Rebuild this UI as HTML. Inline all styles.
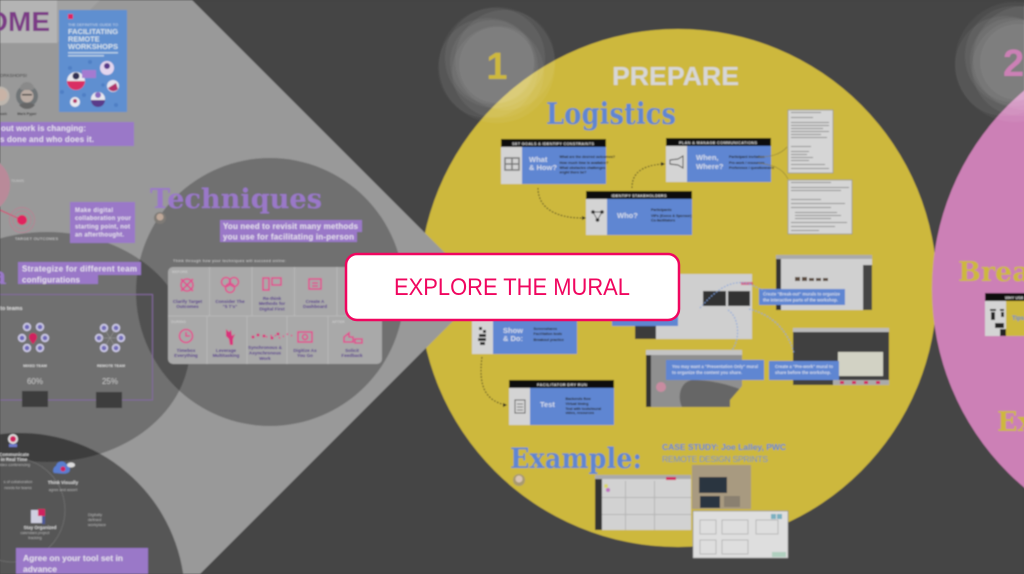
<!DOCTYPE html>
<html><head><meta charset="utf-8"><style>
html,body{margin:0;padding:0;background:#444;width:1024px;height:574px;overflow:hidden}
svg{display:block;font-family:"Liberation Sans",sans-serif}
.s{font-family:"DejaVu Serif","Liberation Serif",serif;font-weight:bold}
.b{font-weight:bold}
.l{font-size:4.6px;font-weight:bold;fill:#54388c;text-anchor:middle}
.w{font-size:7.5px;fill:#d5dceb;font-weight:bold}
.t{font-size:3.6px;fill:#222;font-weight:bold}
.c{fill:#ddd;font-size:4.5px;text-anchor:middle;font-weight:bold}
.d{fill:#b8b8b8;font-size:3.8px;text-anchor:middle}
.p{fill:#e6e0ee;font-weight:bold}
</style></head><body>
<svg width="1024" height="574" viewBox="0 0 1024 574" xmlns="http://www.w3.org/2000/svg">
<defs><filter id="f" filterUnits="userSpaceOnUse" x="0" y="0" width="1024" height="574"><feGaussianBlur stdDeviation="0.7"/></filter></defs>
<g filter="url(#f)">
<rect width="1024" height="574" fill="#444"/>
<circle cx="678" cy="288" r="259" fill="#cdb83c"/>
<circle cx="1192" cy="289" r="260" fill="#cc80b6"/>

<!-- left wedge -->
<polygon points="0,0 192,0 483,291 200,574 0,574" fill="#999"/>
<polygon points="57,43 57,0 100,0" fill="#a2a2a2"/>
<rect x="0" y="0" width="57" height="43" fill="#b4b4b4"/>
<circle cx="270" cy="292" r="134" fill="#000" opacity=".27"/>
<ellipse cx="47" cy="347" rx="143" ry="115" fill="#000" opacity=".27"/>
<path d="M0 574H183.200A165 165 0 0 0 0 434.200Z" fill="#000" opacity=".44"/>
<text x="50" y="31" text-anchor="end" class="b" font-size="28" fill="#7b3a86">OME</text>

<!-- book -->
<rect x="59" y="10" width="68" height="102" fill="#5f8fd0"/>
<rect x="68" y="14" width="5" height="5" fill="#e0245e"/>
<text x="68" y="26" font-size="3.6" fill="#cfdcec" textLength="50" lengthAdjust="spacingAndGlyphs">THE DEFINITIVE GUIDE TO</text>
<g class="b" font-size="7.4" fill="#d6e2ec"><text x="68" y="34" textLength="50" lengthAdjust="spacingAndGlyphs">FACILITATING</text><text x="68" y="41.5">REMOTE</text><text x="68" y="49" textLength="50" lengthAdjust="spacingAndGlyphs">WORKSHOPS</text></g>
<rect x="68" y="52" width="50" height="1.5" fill="#b6cce6"/><rect x="68" y="55" width="36" height="1.5" fill="#b6cce6"/>
<circle cx="76" cy="81" r="9" fill="#e8e8ee"/><path d="M67 81a9 9 0 0 0 18 0z" fill="#d92f64"/><circle cx="76" cy="76" r="3.5" fill="#335"/>
<circle cx="107" cy="68" r="7" fill="#e3d6ee"/><circle cx="107" cy="66" r="3" fill="#5a3b8a"/>
<circle cx="113" cy="86" r="6" fill="#e3e3ee"/><path d="M108 88a6 6 0 0 0 10 1l-2-6z" fill="#b0306a"/>
<circle cx="98" cy="99" r="7" fill="#e8e8ee"/><path d="M91 100a7 7 0 0 0 14 0z" fill="#5a3b8a"/><circle cx="98" cy="95" r="3" fill="#8a6ac0"/>
<circle cx="75" cy="102" r="5" fill="#e8e8ee"/><circle cx="75" cy="101" r="2" fill="#b0306a"/>
<rect x="82" y="70" width="14" height="8" fill="#a57ad0"/>
<g fill="#4f7fc4"><circle cx="70" cy="68" r="2"/><circle cx="62" cy="92" r="2"/><circle cx="116" cy="105" r="2"/><circle cx="84" cy="95" r="2"/><circle cx="90" cy="62" r="2"/><circle cx="103" cy="85" r="1.8"/></g>

<text x="27" y="77" text-anchor="end" font-size="4.6" fill="#333">ORKSHOPS!</text>
<circle cx="27" cy="96" r="11" fill="#6f7477"/><circle cx="27" cy="96" r="6.5" fill="#b9aba3"/><rect x="22" y="94" width="10" height="1.500" fill="#444"/><path d="M20 89a7 7 0 0 1 14 0l-2 1h-10z" fill="#8a8a8a"/><path d="M19 105a10 10 0 0 0 16 0l-4-2h-8z" fill="#666"/>
<circle cx="0" cy="96" r="9.5" fill="#bdb6ae"/><circle cx="1" cy="95" r="6" fill="#c9b3a6"/>
<text x="27" y="115" class="c" style="fill:#333;font-size:3.6px">Mark Pyper</text>
<text x="7" y="115" text-anchor="end" font-size="3.6" class="b" fill="#333">Bush</text>
<rect x="0" y="122" width="134" height="24" fill="#9a78c8"/>
<g class="p" font-size="8"><text x="1" y="131" textLength="85" lengthAdjust="spacing">out work is changing:</text><text x="0" y="142" textLength="94" lengthAdjust="spacing">s done and who does it.</text></g>

<!-- target -->
<circle cx="-18" cy="185" r="28" fill="#b98a99"/>
<text x="11" y="182" font-size="3.8" fill="#ccc">TEAMS</text>
<line x1="0" y1="210" x2="22" y2="220" stroke="#d8406f" stroke-width="1"/>
<circle cx="22" cy="220" r="12.5" fill="none" stroke="#c07a92" stroke-width=".7"/><circle cx="22" cy="220" r="9" fill="none" stroke="#c07a92" stroke-width=".7"/>
<circle cx="22" cy="220" r="5" fill="#e0245e"/>
<text x="15" y="240" font-size="3.8" fill="#ddd" textLength="43">TARGET OUTCOMES</text>
<rect x="70" y="202" width="65" height="41" fill="#9a78c8"/>
<g class="p" font-size="6"><text x="75" y="212" textLength="38">Make digital</text><text x="75" y="220" textLength="56">collaboration your</text><text x="75" y="228.500" textLength="55">starting point, not</text><text x="75" y="236.500" textLength="49">an afterthought.</text></g>
<path d="M18 262h123v13h-43v9h-80z" fill="#9a78c8"/>
<g class="p" font-size="8"><text x="22" y="271.500" textLength="115">Strategize for different team</text><text x="22" y="282.500" textLength="58">configurations</text></g>
<text x="-9" y="284" class="s" font-size="24" fill="#9a78c8">a</text>

<!-- teams frame -->
<path d="M0 294.500H152.500V400H0" fill="none" stroke="#84699f" stroke-width="1"/>
<text x="0" y="310" class="b" font-size="5.500" fill="#ddd">to teams</text>
<g fill="#c9c6e2"><circle cx="27" cy="327" r="4.200"/><circle cx="40" cy="327" r="4.200"/><circle cx="22" cy="338" r="4.200"/><circle cx="45" cy="338" r="4.200"/><circle cx="27" cy="348" r="4.200"/><circle cx="40" cy="348" r="4.200"/>
<circle cx="104" cy="328" r="4.200"/><circle cx="116" cy="328" r="4.200"/><circle cx="99" cy="338" r="4.200"/><circle cx="121" cy="338" r="4.200"/><circle cx="104" cy="348" r="4.200"/><circle cx="116" cy="348" r="4.200"/></g>
<g fill="#6d67b8"><circle cx="27" cy="327" r="2.300"/><circle cx="40" cy="327" r="2.300"/><circle cx="22" cy="338" r="2.300"/><circle cx="45" cy="338" r="2.300"/><circle cx="27" cy="348" r="2.300"/><circle cx="40" cy="348" r="2.300"/>
<circle cx="104" cy="328" r="2.300"/><circle cx="116" cy="328" r="2.300"/><circle cx="99" cy="338" r="2.300"/><circle cx="121" cy="338" r="2.300"/><circle cx="104" cy="348" r="2.300"/><circle cx="116" cy="348" r="2.300"/></g>
<path d="M33 333a4 4 0 0 1 4 4c0 3-4 7-4 7s-4-4-4-7a4 4 0 0 1 4-4z" fill="#d0245e"/>
<path d="M104 328L116 348M116 328L104 348M99 338H121" stroke="#aaa" stroke-width=".4"/>
<text x="35" y="367" class="c" style="font-size:3.800px">MIXED TEAM</text><text x="111" y="367" class="c" style="font-size:3.800px">REMOTE TEAM</text>
<text x="35" y="384" font-size="8" text-anchor="middle" fill="#c8c8c8">60%</text><text x="110" y="384" font-size="8" text-anchor="middle" fill="#c8c8c8">25%</text>
<rect x="22" y="391" width="26" height="16" fill="#3d3d3d"/><rect x="96" y="392" width="26" height="16" fill="#3d3d3d"/>

<!-- tools -->
<circle cx="13" cy="510" r="52" fill="none" stroke="#777" stroke-width=".6"/>
<circle cx="13" cy="439" r="5" fill="#ddd"/><circle cx="13" cy="439" r="3" fill="#d0245e"/><rect x="9" y="444" width="8" height="3" fill="#6d78c8"/>
<text x="14" y="456" class="c">Communicate</text><text x="14" y="461" class="c">in Real Time</text><text x="14" y="466" class="d">video conferencing</text>
<path d="M55 473c-3 0-2-6 1-7 1-5 8-6 10-2 4 0 5 6 3 8-3 3-10 1-14 1z" fill="#5a7ed0"/><circle cx="63" cy="469" r="2.500" fill="#d0245e"/><ellipse cx="71" cy="465" rx="4" ry="2.500" fill="#ddd"/>
<text x="63" y="484" class="c">Think Visually</text><text x="63" y="491" class="d">agree and assert</text>
<text x="18" y="483" class="d">s of collaboration</text><text x="18" y="489" class="d">needs for teams</text>
<rect x="31" y="510" width="14" height="13" fill="#cfcfe0"/><rect x="38" y="509" width="7" height="7" fill="#d0245e"/><rect x="42" y="516" width="3" height="8" fill="#4d5a9a"/>
<text x="40" y="529" class="c">Stay Organized</text><text x="35" y="534" class="d">calendars project</text><text x="35" y="539" class="d">tracking</text>
<text x="88" y="516" fill="#b8b8b8" font-size="4">Digitally</text><text x="88" y="521" fill="#b8b8b8" font-size="4">defined</text><text x="88" y="526" fill="#b8b8b8" font-size="4">workplace</text>
<rect x="16" y="548" width="132" height="26" fill="#9a78c8"/>
<g class="p" font-size="8.500"><text x="23" y="561" textLength="100">Agree on your tool set in</text><text x="23" y="572" textLength="34">advance</text></g>

<!-- techniques -->
<text x="150" y="208" class="s" font-size="27" fill="#9a78c8" textLength="172" lengthAdjust="spacingAndGlyphs">Techniques</text>
<circle cx="160" cy="218" r="6" fill="#7e7a76"/><circle cx="160" cy="217" r="3.500" fill="#bfa899"/>
<path d="M220 220h142v12h-5v10h-137z" fill="#9a78c8"/>
<g class="p" font-size="8"><text x="223" y="229" textLength="135">You need to revisit many methods</text><text x="223" y="239.500" textLength="131">you use for facilitating in-person</text></g>
<text x="173" y="262" font-size="3.800" fill="#ddd" textLength="113">Think through how your techniques will succeed online:</text>
<rect x="168" y="267" width="214" height="97" rx="5" fill="#a9a9a9"/>
<path d="M168 316H382M209.500 267V316M252 267V316M294.500 267V316M337 267V316M207 316V364M247 316V364M287 316V364M328 316V364" stroke="#bcbcbc" stroke-width=".8"/>
<text x="172" y="273" font-size="3.800" fill="#c8c8c8" class="b">BEFORE</text><text x="171" y="323" font-size="3.800" fill="#c8c8c8" class="b">DURING</text><text x="332" y="323" font-size="3.800" fill="#c8c8c8" class="b">AFTER</text>
<g fill="none" stroke="#e0508f" stroke-width="1.600">
<circle cx="187" cy="285" r="6"/><path d="M181 279l12 12M193 279l-12 12"/>
<circle cx="226" cy="282" r="4.500"/><circle cx="234" cy="282" r="4.500"/><circle cx="230" cy="288" r="4.500"/>
<rect x="263" y="278" width="6" height="12"/><rect x="272" y="278" width="9" height="7"/>
<rect x="309" y="279" width="12" height="10"/><path d="M312 283h6M312 286h6"/>
<circle cx="186" cy="336" r="6.500"/><path d="M186 332v4h4"/>
<path d="M266 337l8-2 6 3 8-4 7 3" stroke-dasharray="1.500 3"/>
<rect x="298" y="332" width="14" height="10"/><circle cx="305" cy="337" r="2.500"/>
<path d="M344 337l5-4v4h4v5h-9zM355 339h7v4h-7z"/>
</g>
<path d="M226 329l3 3 2-2 1 6 3-2-2 5v6h-3l-1-6-3-3z" fill="#d8327c"/>
<g fill="#d8327c"><circle cx="253" cy="337" r="1.500"/><circle cx="258" cy="335" r="1.500"/><circle cx="264" cy="336" r="1.500"/><circle cx="272" cy="338" r="1.500"/><circle cx="278" cy="334" r="1.500"/></g>
<text class="l" x="187.500" y="303">Clarify Target</text><text class="l" x="187.500" y="308">Outcomes</text>
<text class="l" x="230" y="303">Consider The</text><text class="l" x="230" y="308">"5 T's"</text>
<text class="l" x="272" y="300">Re-think</text><text class="l" x="272" y="305">Methods for</text><text class="l" x="272" y="310.500">Digital First</text>
<text class="l" x="315" y="303">Create A</text><text class="l" x="315" y="308">Dashboard</text>
<text class="l" x="186" y="352">Timebox</text><text class="l" x="186" y="357">Everything</text>
<text class="l" x="226" y="352">Leverage</text><text class="l" x="226" y="357">Multitasking</text>
<text class="l" x="265" y="349">Synchronous &amp;</text><text class="l" x="265" y="354.500">Asynchronous</text><text class="l" x="265" y="360">Work</text>
<text class="l" x="305" y="352">Digitize As</text><text class="l" x="305" y="357">You Go</text>
<text class="l" x="352" y="352">Solicit</text><text class="l" x="352" y="357">Feedback</text>

<!-- badges -->
<g fill="#fff" fill-opacity=".055"><circle cx="497" cy="65" r="58"/><circle cx="488" cy="68" r="50"/><circle cx="505" cy="60" r="50"/><circle cx="495" cy="58" r="50"/><circle cx="498" cy="72" r="46"/><circle cx="497" cy="65" r="38"/><circle cx="492" cy="62" r="42"/></g>
<g fill="#fff" fill-opacity=".055"><circle cx="1015" cy="62" r="60"/><circle cx="1005" cy="66" r="50"/><circle cx="1025" cy="58" r="52"/><circle cx="1015" cy="56" r="50"/><circle cx="1020" cy="68" r="48"/><circle cx="1018" cy="62" r="38"/><circle cx="1012" cy="60" r="42"/></g>
<text x="497" y="79" text-anchor="middle" class="b" font-size="38" fill="#cdb83c">1</text>
<text x="1003" y="76" class="b" font-size="38" fill="#cc80b6">2</text>

<!-- prepare -->
<text x="612" y="85" class="b" font-size="26" fill="#d7d7d7" textLength="127" lengthAdjust="spacingAndGlyphs">PREPARE</text>
<text x="546" y="124" class="s" font-size="30" fill="#5f86d2" textLength="130" lengthAdjust="spacingAndGlyphs">Logistics</text>

<!-- card A -->
<rect x="501" y="139" width="105" height="45" fill="#5f86d2"/><rect x="501" y="147" width="21" height="37" fill="#d4d4d4"/><rect x="501" y="139" width="105" height="8" fill="#111"/>
<text x="553" y="145" text-anchor="middle" font-size="4" class="b" fill="#ddd" textLength="82">SET GOALS &amp; IDENTIFY CONSTRAINTS</text>
<rect x="505" y="158" width="14" height="12" fill="none" stroke="#777" stroke-width="1.500"/><path d="M512 158v12M505 164h14" stroke="#777" stroke-width="1.500"/>
<text class="w" x="529" y="162">What</text><text class="w" x="529" y="170">&amp; How?</text>
<text class="t" x="559.500" y="158">What are the desired outcomes?</text><text class="t" x="559.500" y="164">How much time is available?</text><text class="t" x="559.500" y="169">What obstacles challenges</text><text class="t" x="559.500" y="173.500">might there be?</text>
<!-- card B -->
<rect x="586" y="191" width="106" height="44" fill="#5f86d2"/><rect x="586" y="199" width="21" height="36" fill="#d4d4d4"/><rect x="586" y="191" width="106" height="8" fill="#111"/>
<text x="639" y="197" text-anchor="middle" font-size="4" class="b" fill="#ddd" textLength="55">IDENTIFY STAKEHOLDERS</text>
<g fill="#222"><circle cx="593" cy="212" r="1.800"/><circle cx="602" cy="212" r="1.800"/><circle cx="597.500" cy="220" r="1.800"/></g><path d="M593 212l4.500 8 4.500-8M593 212h9" stroke="#222" stroke-width=".7" fill="none"/>
<text class="w" x="617" y="218">Who?</text>
<text class="t" x="651" y="211">Participants</text><text class="t" x="651" y="217">VIPs (Execs &amp; Sponsor)</text><text class="t" x="651" y="221.500">Co-facilitators</text>
<!-- card C -->
<rect x="666" y="138" width="105" height="44" fill="#5f86d2"/><rect x="666" y="146" width="21" height="36" fill="#d4d4d4"/><rect x="666" y="138" width="105" height="8" fill="#111"/>
<text x="718" y="144" text-anchor="middle" font-size="4" class="b" fill="#ddd" textLength="78">PLAN &amp; MANAGE COMMUNICATIONS</text>
<path d="M670 160l8-1 5-3v12l-5-3-8-1z" fill="none" stroke="#444" stroke-width="1"/>
<text class="w" x="696" y="160">When,</text><text class="w" x="696" y="169">Where?</text>
<text class="t" x="729" y="158">Participant invitation</text><text class="t" x="729" y="164">Pre-work / resources</text><text class="t" x="729" y="169">Preference / questionnaire</text>
<!-- docs -->
<rect x="788" y="110" width="45" height="63" fill="#d6d6d6" stroke="#888" stroke-width=".6"/>
<g fill="#8f8f8f"><rect x="791" y="112" width="30" height="1"/><rect x="791" y="117" width="22" height="1"/><rect x="791" y="122" width="38" height="1"/><rect x="791" y="125" width="38" height="1"/><rect x="791" y="128" width="32" height="1"/><rect x="791" y="131" width="38" height="1"/><rect x="791" y="134" width="30" height="1"/><rect x="791" y="137" width="36" height="1"/><rect x="791" y="146" width="20" height="1"/><rect x="791" y="151" width="18" height="1"/><rect x="791" y="154" width="16" height="1"/><rect x="791" y="157" width="22" height="1"/><rect x="791" y="160" width="18" height="1"/><rect x="791" y="164" width="34" height="1"/><rect x="791" y="168" width="38" height="1"/></g>
<rect x="788" y="180" width="64" height="54" fill="#d6d6d6" stroke="#888" stroke-width=".6"/>
<g fill="#8f8f8f"><rect x="791" y="182" width="40" height="1"/><rect x="791" y="187" width="58" height="1"/><rect x="791" y="190" width="50" height="1"/><rect x="791" y="199" width="30" height="1"/><rect x="791" y="203" width="54" height="1"/><rect x="791" y="207" width="40" height="1"/><rect x="795" y="212" width="42" height="1"/><rect x="795" y="215" width="46" height="1"/><rect x="795" y="218" width="36" height="1"/><rect x="791" y="222" width="56" height="1"/><rect x="791" y="226" width="44" height="1"/><rect x="791" y="230" width="28" height="1"/></g>
<!-- connectors -->
<g fill="none" stroke="#33321a" stroke-width="1" stroke-dasharray="1.600 1.600">
<path d="M538 188c0 20 18 30 44 30"/><path d="M632 188c0-14 8-22 30-24"/><path d="M482 357c-4 30 4 44 24 48"/>
</g>
<g fill="#222"><path d="M582 216l4 2-4 2z"/><path d="M661 162l4 2-4 2z"/><path d="M503 403l4 2-4 2z"/></g>
<path d="M758 157c12 0 22-2 29-10M758 163c14 2 24 4 30 16" fill="none" stroke="#8a7d35" stroke-width=".6"/>

<!-- show & do -->
<rect x="472" y="300" width="105" height="54" fill="#5f86d2"/><rect x="472" y="300" width="21" height="54" fill="#d4d4d4"/>
<g fill="#222"><rect x="479" y="327" width="3" height="3"/><rect x="483" y="330" width="3" height="3"/><rect x="479" y="334" width="7" height="3"/><rect x="478" y="338" width="8" height="3"/><rect x="480" y="342" width="5" height="3"/></g>
<text class="w" x="503" y="333">Show</text><text class="w" x="503" y="341">&amp; Do:</text>
<text class="t" x="533.500" y="330">Screenshares</text><text class="t" x="533.500" y="335">Facilitation tools</text><text class="t" x="533.500" y="341">Breakout practice</text>
<!-- test -->
<rect x="509" y="380" width="105" height="45" fill="#5f86d2"/><rect x="509" y="388" width="21" height="37" fill="#d4d4d4"/><rect x="509" y="380" width="105" height="8" fill="#111"/>
<text x="562" y="386" text-anchor="middle" font-size="4" class="b" fill="#ddd" textLength="50">FACILITATOR DRY RUN</text>
<rect x="515" y="400" width="10" height="13" fill="none" stroke="#555" stroke-width="1"/><path d="M517 404h6M517 407h6M517 410h6" stroke="#555" stroke-width=".7"/>
<text class="w" x="540" y="407">Test</text>
<text class="t" x="565.500" y="400">Backends flow</text><text class="t" x="565.500" y="405">Virtual timing</text><text class="t" x="565.500" y="410">Test with tools/mural</text><text class="t" x="565.500" y="414">video, resources</text>

<!-- center screen -->
<rect x="635" y="274" width="117" height="65" fill="#cfcfcf"/><rect x="635" y="325" width="21" height="14" fill="#3a3a3a"/>
<rect x="703" y="291" width="23" height="15" fill="#333"/><rect x="728" y="291" width="22" height="15" fill="#333"/>
<rect x="612" y="315" width="66" height="11" fill="#5f86d2"/>
<rect x="741" y="282" width="12" height="3" fill="#d0245e" opacity=".6"/>
<!-- screen top right -->
<rect x="776" y="255" width="96" height="55" fill="#d0d0d0"/><rect x="776" y="255" width="96" height="4" fill="#aaa"/><rect x="776" y="259" width="5" height="51" fill="#333"/><rect x="863" y="265" width="9" height="45" fill="#444"/>
<g fill="#5a4a3a"><rect x="795" y="277" width="5" height="4"/><rect x="802" y="277" width="5" height="4"/><rect x="809" y="278" width="5" height="3"/><rect x="816" y="278" width="5" height="3"/><rect x="823" y="278" width="5" height="3"/></g>
<rect x="759" y="289" width="86" height="16" fill="#5f86d2"/>
<g fill="#d5dceb" font-size="4.200" class="b"><text x="763" y="295.500" textLength="77">Create "Break-out" murals to organize</text><text x="763" y="301.500" textLength="75">the interactive parts of the workshop.</text></g>
<!-- presentation -->
<rect x="646" y="350" width="96" height="57" fill="#8f8f8f"/><rect x="646" y="350" width="96" height="5" fill="#c4c4c4"/><rect x="646" y="355" width="5" height="52" fill="#333"/>
<path d="M692 380c20 0 38 5 50 10v17h-60c-5-10-2-25 10-27z" fill="#666"/><circle cx="661" cy="387" r="5" fill="#c88ca0"/><path d="M730 400l12-14v21h-12z" fill="#cdb83c"/>
<rect x="666" y="360" width="98" height="20" fill="#5f86d2"/>
<g fill="#d5dceb" font-size="4.200" class="b"><text x="672" y="368" textLength="86">You may want a "Presentation Only" mural</text><text x="672" y="374" textLength="70">to organize the content you share.</text></g>
<!-- prework -->
<rect x="793" y="328" width="96" height="57" fill="#3f3f3f"/><rect x="793" y="328" width="96" height="4" fill="#bbb"/>
<rect x="838" y="352" width="45" height="24" fill="#d2d2c4"/><rect x="833" y="380" width="56" height="5" fill="#aaa"/>
<g fill="#d0245e"><rect x="840" y="381" width="4" height="3"/><rect x="852" y="381" width="4" height="3"/><rect x="864" y="381" width="4" height="3"/><rect x="876" y="381" width="4" height="3"/></g>
<rect x="769" y="361" width="70" height="19" fill="#5f86d2"/>
<g fill="#d5dceb" font-size="4.200" class="b"><text x="775" y="368" textLength="58">Create a "Pre-work" mural to</text><text x="775" y="374" textLength="56">share before the workshop.</text></g>
<g fill="none" stroke="#7da0dc" stroke-width="1" stroke-dasharray="1.600 1.600">
<path d="M700 308c14-16 30-30 50-24M750 284l24 12"/><path d="M728 310c12 8 12 30 4 40"/><path d="M749 309c24 6 39 22 45 44"/>
</g>

<!-- example -->
<text x="510" y="468" class="s" font-size="28" fill="#5f86d2" textLength="132" lengthAdjust="spacingAndGlyphs">Example:</text>
<circle cx="519" cy="480" r="6" fill="#a89a70"/><circle cx="519" cy="479" r="3.500" fill="#d8c4b4"/>
<text x="662" y="450" class="b" font-size="8.500" fill="#5f86d2" textLength="124">CASE STUDY: Joe Lalley, PWC</text>
<text x="662" y="462" font-size="8.500" fill="#6e8fc4" textLength="106">REMOTE DESIGN SPRINTS</text>
<rect x="595" y="475" width="96" height="55" fill="#d2d2d2"/><rect x="595" y="475" width="96" height="4" fill="#aaa"/><rect x="595" y="479" width="7" height="51" fill="#333"/>
<g fill="#b5b5b5"><rect x="625" y="481" width="1" height="49"/><rect x="654" y="481" width="1" height="49"/><rect x="602" y="497" width="89" height="1"/><rect x="602" y="514" width="89" height="1"/></g>
<rect x="666" y="477" width="10" height="3" fill="#d0245e"/><circle cx="606" cy="486" r="2" fill="#d8d46a"/><circle cx="608" cy="490" r="2" fill="#c070c0"/>
<rect x="692" y="465" width="59" height="44" fill="#a89a80"/><rect x="699" y="477" width="28" height="16" fill="#2a3540"/><rect x="700" y="496" width="20" height="12" fill="#2a3540"/><rect x="724" y="496" width="16" height="11" fill="#8a8070"/>
<rect x="693" y="511" width="95" height="47" fill="#dedede" stroke="#888" stroke-width=".6"/>
<g fill="none" stroke="#a0a0a0" stroke-width=".6"><rect x="700" y="520" width="16" height="14"/><rect x="722" y="520" width="26" height="14"/><rect x="700" y="540" width="16" height="14"/><rect x="722" y="540" width="26" height="14"/><rect x="756" y="520" width="22" height="14"/></g>
<rect x="777" y="514" width="5" height="5" fill="#7ab0c0"/><rect x="771" y="514" width="5" height="5" fill="#7ab0c0"/><rect x="772" y="552" width="14" height="5" fill="#b0d0c0"/>

<!-- section 2 -->
<text x="958" y="281" class="s" font-size="27" fill="#cdb83c">Breakout</text>
<text x="997" y="431" class="s" font-size="27" fill="#cdb83c">Example</text>
<rect x="985" y="293" width="60" height="43" fill="#cdb83c"/><rect x="985" y="301" width="21" height="35" fill="#d4d4d4"/><rect x="985" y="293" width="60" height="8" fill="#111"/>
<text x="1005" y="299" font-size="4" class="b" fill="#ddd">WHY USE</text>
<g fill="#222"><rect x="990" y="309" width="6" height="2"/><rect x="991" y="312" width="4" height="8"/><rect x="1000" y="309" width="4" height="2"/><rect x="1001" y="312" width="3" height="5"/><rect x="995" y="323" width="9" height="5"/><rect x="1000" y="329" width="6" height="7"/></g>
<text x="1012" y="320" font-size="6" class="b" fill="#5f86d2">Tips</text>
</g>
<!-- button -->
<rect x="346" y="254" width="333" height="66" rx="11" fill="#fff" stroke="#f0065f" stroke-width="2.500"/>
<text x="512" y="295" text-anchor="middle" font-size="24" fill="#f0065f" textLength="236" lengthAdjust="spacingAndGlyphs">EXPLORE THE MURAL</text>
</svg>
</body></html>
